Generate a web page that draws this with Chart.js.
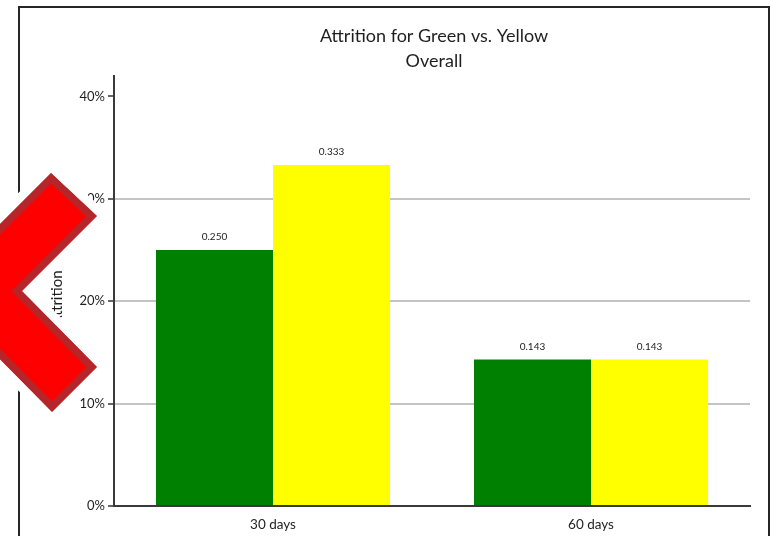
<!DOCTYPE html>
<html>
<head>
<meta charset="utf-8">
<script src="https://cdn.jsdelivr.net/npm/chart.js@4/dist/chart.umd.min.js"></script>
<style>
  html, body { margin: 0; padding: 0; background: #fff; }
  #wrap { position: relative; width: 771px; height: 536px; overflow: hidden; }
  #c { position: absolute; left: 0; top: 0; }
  #frame { position: absolute; left: 18px; top: 6px; width: 748px; height: 600px;
           border: 2px solid #262626; pointer-events: none; }
  #nav { position: absolute; left: 0; top: 0; pointer-events: none; }
</style>
</head>
<body>
<div id="wrap">
  <canvas id="c" width="771" height="536"></canvas>
  <div id="frame"></div>
  <svg id="nav" width="771" height="536" viewBox="0 0 771 536">
    <defs>
      <clipPath id="navClip">
        <polygon points="51,173 97,216 22,291 97,367 52,412 -67,291"/>
      </clipPath>
    </defs>
    <polygon points="51,173 97,216 22,291 97,367 52,412 -67,291"
             fill="#fff" stroke="#fff" stroke-width="18" stroke-linejoin="miter"/>
    <polygon points="51,173 97,216 22,291 97,367 52,412 -67,291"
             fill="#ff0000" stroke="#b5262b" stroke-width="15" stroke-linejoin="miter"
             clip-path="url(#navClip)"/>
  </svg>
</div>
<script>
// Attrition rates by tenure bucket
const categories = ['30 days', '60 days'];
const greenValues = [0.250, 0.143];
const yellowValues = [0.333, 0.143];
const yTickValues = [0, 0.1, 0.2, 0.3, 0.4];
const titleLines = ['Attrition for Green vs. Yellow', 'Overall'];
const yAxisTitle = 'Attrition';

const FONT = 'Lato, "Open Sans", sans-serif';

// Two-line title centred over the plot area, plus the rotated y-axis title
const chartTitles = {
  id: 'chartTitles',
  afterDraw(chart) {
    const { ctx, chartArea } = chart;
    const cx = (chartArea.left + chartArea.right) / 2 + 2;
    ctx.save();
    ctx.fillStyle = '#1e1e1e';
    ctx.font = '18px ' + FONT;
    ctx.textAlign = 'center';
    ctx.textBaseline = 'alphabetic';
    ctx.fillText(titleLines[0], cx, 42);
    ctx.fillText(titleLines[1], cx, 67);

    ctx.translate(57, (chartArea.top + chartArea.bottom) / 2 + 7);
    ctx.rotate(-Math.PI / 2);
    ctx.font = '15px ' + FONT;
    ctx.textBaseline = 'middle';
    ctx.fillText(yAxisTitle, 0, 0);
    ctx.restore();
  }
};

// Value printed above each bar
const valueLabels = {
  id: 'valueLabels',
  afterDatasetsDraw(chart) {
    const { ctx } = chart;
    ctx.save();
    ctx.fillStyle = '#222';
    ctx.font = '10px ' + FONT;
    ctx.textAlign = 'center';
    ctx.textBaseline = 'alphabetic';
    chart.data.datasets.forEach((ds, i) => {
      chart.getDatasetMeta(i).data.forEach((bar, j) => {
        ctx.fillText(ds.data[j].toFixed(3), bar.x, bar.y - 10);
      });
    });
    ctx.restore();
  }
};

new Chart(document.getElementById('c'), {
  type: 'bar',
  data: {
    labels: categories,
    datasets: [
      { label: 'Green', data: greenValues, backgroundColor: '#008000',
        barPercentage: 1.0, categoryPercentage: 0.736 },
      { label: 'Yellow', data: yellowValues, backgroundColor: '#ffff00',
        barPercentage: 1.0, categoryPercentage: 0.736 }
    ]
  },
  options: {
    responsive: false,
    animation: false,
    layout: { padding: { left: 0, top: 76, right: 21, bottom: 0 } },
    plugins: {
      legend: { display: false },
      title: { display: false },
      tooltip: { enabled: false }
    },
    scales: {
      x: {
        grid: { display: false, drawTicks: false },
        border: { display: true, color: '#3a3a3a', width: 2 },
        ticks: { color: '#1e1e1e', font: { family: FONT, size: 13.5 }, padding: 11 },
        afterFit(scale) { scale.height = 30; }
      },
      y: {
        min: 0,
        max: 0.42,
        afterBuildTicks(scale) {
          scale.ticks = yTickValues.map(v => ({ value: v }));
        },
        grid: {
          color: (ctx) => (ctx.tick && ctx.tick.value > 0.05 && ctx.tick.value < 0.35)
            ? '#c4c4c4' : 'rgba(0,0,0,0)',
          lineWidth: 2,
          tickColor: '#333',
          tickLength: 6,
          tickWidth: 1.5
        },
        border: { display: true, color: '#3a3a3a', width: 2 },
        ticks: {
          color: '#1e1e1e',
          font: { family: FONT, size: 13 },
          padding: 3,
          callback: (v) => Math.round(v * 100) + '%'
        },
        afterFit(scale) { scale.width = 114; }
      }
    }
  },
  plugins: [chartTitles, valueLabels]
});
</script>
</body>
</html>
